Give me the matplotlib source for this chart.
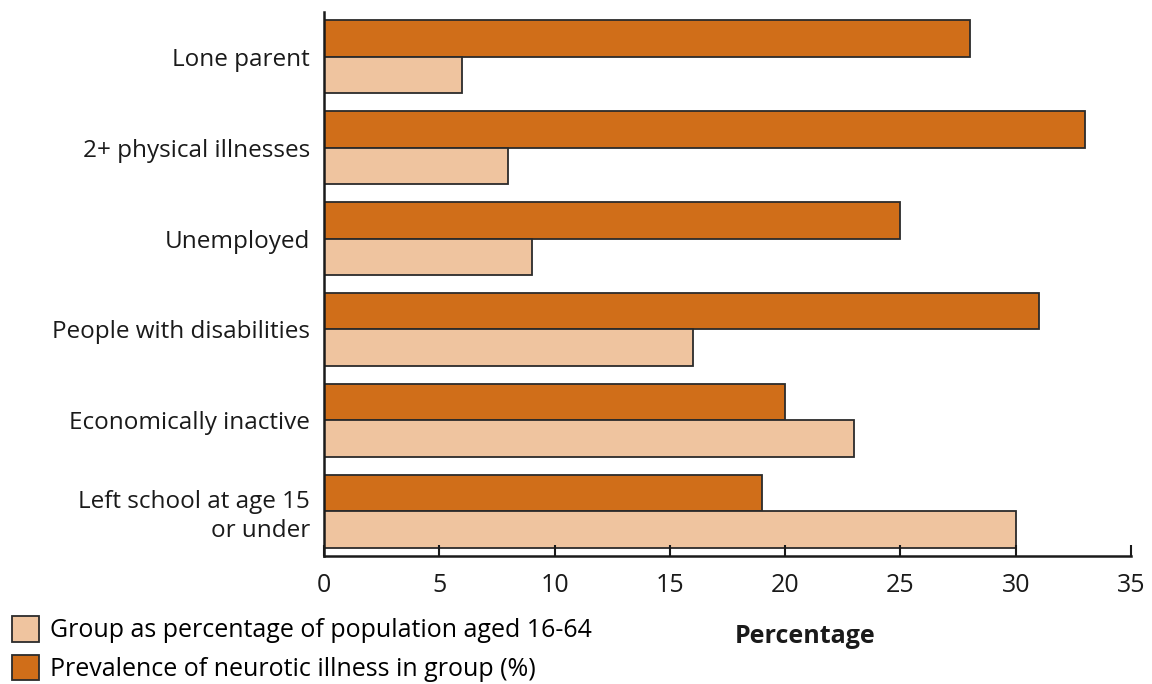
import numpy as np
import matplotlib.pyplot as plt

plt.rcParams['font.family'] = ['Open Sans', 'DejaVu Sans']

groups = ["Lone parent", "2+ physical illnesses", "Unemployed",
          "People with disabilities", "Economically inactive",
          "Left school at age 15\nor under"]
population_pct = [6, 8, 9, 16, 23, 30]
prevalence_pct = [28, 33, 25, 31, 20, 19]

light = "#EFC49F"
dark = "#D06E19"
edge = "#2b2b2b"

fig = plt.figure(figsize=(11.52, 6.84), dpi=100)
ax = fig.add_axes([324/1152, 128/684, (1131-324)/1152, (556-12)/684])

y = np.arange(len(groups))
h = 0.4
ax.barh(y - h/2, prevalence_pct, height=h, color=dark, edgecolor=edge, linewidth=1.3,
        label="Prevalence of neurotic illness in group (%)")
ax.barh(y + h/2, population_pct, height=h, color=light, edgecolor=edge, linewidth=1.3,
        label="Group as percentage of population aged 16-64")

ax.set_xlim(0, 35)
ax.set_ylim(len(groups) - 1 + h + 0.09, -h - 0.09)
ax.set_xticks(range(0, 36, 5))
ax.set_yticks(y)
ax.set_yticklabels(groups, fontsize=17.5, color="#1a1a1a", linespacing=1.25)
ax.tick_params(axis='y', length=0, pad=10)
ax.tick_params(axis='x', direction='in', length=8, width=1.5, labelsize=18,
               pad=12, colors="#1a1a1a")
for s in ["top", "right"]:
    ax.spines[s].set_visible(False)
for s in ["left", "bottom"]:
    ax.spines[s].set_linewidth(1.8)
    ax.spines[s].set_color("#1a1a1a")

ax.set_xlabel("Percentage", fontsize=18, fontweight='bold', color="#1a1a1a")
ax.xaxis.set_label_coords((805-324)/807, -0.125)

handles, labels = ax.get_legend_handles_labels()
fig.legend(handles[::-1], labels[::-1], loc='upper left', bbox_to_anchor=(-0.005, 0.125),
           frameon=False, fontsize=18, handlelength=1.1, handleheight=1.2,
           handletextpad=0.45, labelspacing=0.45, borderaxespad=0.3)

fig.savefig("out.png", dpi=100)
